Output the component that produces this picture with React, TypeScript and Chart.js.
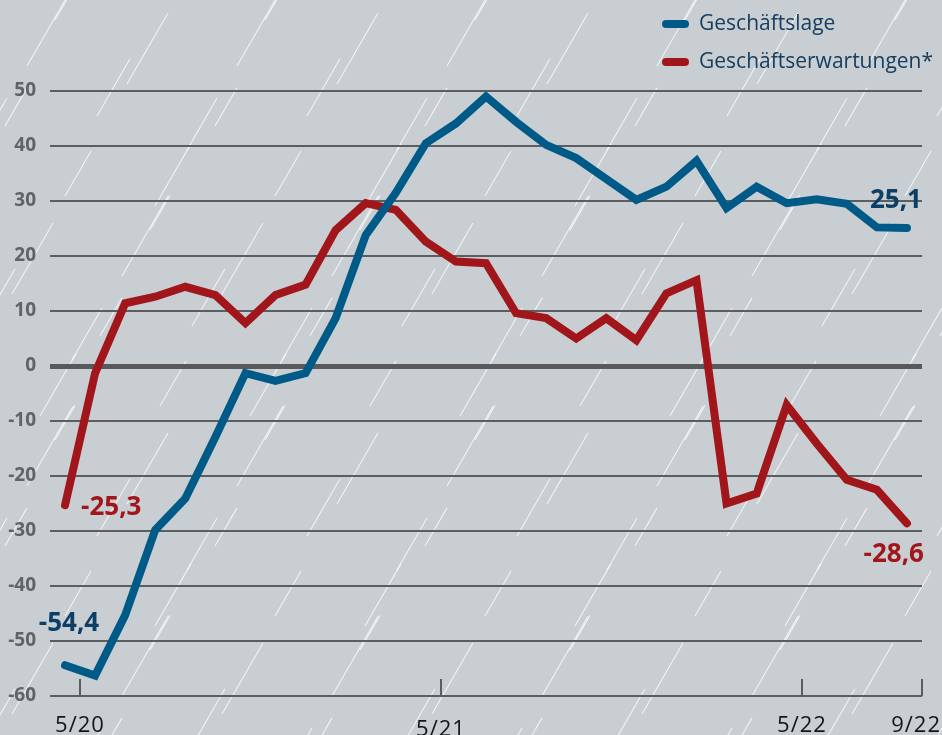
import React, { useEffect, useRef } from "react";
import { Chart, registerables } from "chart.js";

Chart.register(...registerables);

const MONTHS = [
  "5/20", "6/20", "7/20", "8/20", "9/20", "10/20", "11/20", "12/20",
  "1/21", "2/21", "3/21", "4/21", "5/21", "6/21", "7/21", "8/21", "9/21", "10/21", "11/21", "12/21",
  "1/22", "2/22", "3/22", "4/22", "5/22", "6/22", "7/22", "8/22", "9/22",
];

const GESCHAEFTSLAGE = [
  -54.4, -56.3, -45.3, -29.8, -24.1, -12.9, -1.3, -2.7, -1.3, 8.7,
  23.8, 31.5, 40.5, 44.1, 49.0, 44.4, 40.2, 37.8, 34.0, 30.2,
  32.6, 37.3, 28.7, 32.6, 29.6, 30.3, 29.5, 25.2, 25.1,
];

const GESCHAEFTSERWARTUNGEN = [
  -25.3, -1.3, 11.4, 12.6, 14.4, 12.9, 7.8, 12.9, 14.8, 24.7,
  29.6, 28.4, 22.6, 19.0, 18.7, 9.6, 8.7, 5.0, 8.7, 4.7,
  13.2, 15.6, -25.0, -23.2, -7.1, -14.1, -20.7, -22.5, -28.6,
];

const SERIES_NAMES = ["Geschäftslage", "Geschäftserwartungen*"];
const TICK_LABELS = ["5/20", "5/21", "5/22", "9/22"];
const Y_MIN = -60;
const Y_MAX = 50;
const Y_STEP = 10;

const BG = "#c9ced2";
const GRID = "#5b5e61";
const BLUE = "#005a88";
const RED = "#a1161b";
const BLUE_TEXT = "#0c3f66";
const FONT = "'Open Sans', 'Noto Sans', sans-serif";

// decorative rain tile: [x, y, length]
const RAIN: number[][] = [
  [12, 84, 82], [72, 150, 60], [122, 66, 92], [160, 196, 52],
  [40, 206, 72], [192, 116, 66], [100, 126, 44], [150, 20, 40],
];

const fmt = (v: number) => v.toFixed(1).replace(".", ",");

const bgPlugin = {
  id: "bgRain",
  beforeDraw(chart: any) {
    const { ctx, width, height } = chart;
    ctx.save();
    ctx.fillStyle = BG;
    ctx.fillRect(0, 0, width, height);
    ctx.strokeStyle = "rgba(255,255,255,0.75)";
    ctx.lineWidth = 1.1;
    const T = 210;
    let row = 0;
    for (let oy = -T; oy < height + T; oy += T) {
      const shift = (row % 2) * 95;
      for (let ox = -T - shift; ox < width + T; ox += T) {
        for (const [sx, sy, len] of RAIN) {
          ctx.beginPath();
          ctx.moveTo(ox + sx, oy + sy);
          ctx.lineTo(ox + sx + len * 0.5, oy + sy - len * 0.866);
          ctx.stroke();
        }
      }
      row++;
    }
    ctx.restore();
  },
};

const axisPlugin = {
  id: "xTicks",
  beforeDatasetsDraw(chart: any) {
    const { ctx, chartArea, width } = chart;
    const xs = chart.scales.x;
    ctx.save();
    ctx.strokeStyle = GRID;
    ctx.lineWidth = 2;
    ctx.font = `22px ${FONT}`;
    try { (ctx as any).letterSpacing = "1px"; } catch (e) {}
    ctx.fillStyle = "#151515";
    ctx.textBaseline = "alphabetic";
    TICK_LABELS.forEach((lab, i) => {
      const x = Math.round(xs.getPixelForValue(MONTHS.indexOf(lab) + 0.5));
      ctx.beginPath();
      ctx.moveTo(x, chartArea.bottom - 17);
      ctx.lineTo(x, chartArea.bottom);
      ctx.stroke();
      const w = ctx.measureText(lab).width;
      let tx = x;
      ctx.textAlign = "center";
      if (x + w / 2 > width - 1) {
        ctx.textAlign = "right";
        tx = width - 1;
      }
      ctx.fillText(lab, tx, i === 1 ? 736 : 732);
    });
    try { (ctx as any).letterSpacing = "0px"; } catch (e) {}
    ctx.restore();
  },
  afterDatasetsDraw(chart: any) {
    const { ctx } = chart;
    const xs = chart.scales.x;
    const ys = chart.scales.y;
    ctx.save();
    ctx.font = `bold 26px ${FONT}`;
    const last = MONTHS.length - 1;
    const put = (series: number[], idx: number, color: string, align: any, dx: number, dy: number) => {
      const px = xs.getPixelForValue(idx);
      const py = ys.getPixelForValue(series[idx]);
      ctx.fillStyle = color;
      ctx.textAlign = align;
      ctx.textBaseline = "alphabetic";
      ctx.fillText(fmt(series[idx]), px + dx, py + dy);
    };
    put(GESCHAEFTSLAGE, 0, BLUE_TEXT, "center", 4, -34);
    put(GESCHAEFTSERWARTUNGEN, 0, RED, "left", 16, 10);
    put(GESCHAEFTSLAGE, last, BLUE_TEXT, "right", 15, -20);
    put(GESCHAEFTSERWARTUNGEN, last, RED, "right", 17, 39);

    // legend
    const colors = [BLUE, RED];
    SERIES_NAMES.forEach((name, i) => {
      const y = 24 + i * 38;
      ctx.strokeStyle = colors[i];
      ctx.lineWidth = 8;
      ctx.lineCap = "round";
      ctx.beginPath();
      ctx.moveTo(666, y);
      ctx.lineTo(685, y);
      ctx.stroke();
      ctx.font = `21px ${FONT}`;
      ctx.fillStyle = "#163e60";
      ctx.textAlign = "left";
      ctx.textBaseline = "middle";
      ctx.fillText(name, 699, y);
    });
    ctx.restore();
  },
};

export default function App() {
  const ref = useRef<HTMLCanvasElement | null>(null);
  useEffect(() => {
    document.body.style.margin = "0";
    const canvas = ref.current!;
    const toPts = (arr: number[]) => arr.map((v, i) => ({ x: i, y: v }));
    const chart = new Chart(canvas, {
      type: "line",
      data: {
        datasets: [
          {
            label: SERIES_NAMES[0],
            data: toPts(GESCHAEFTSLAGE),
            borderColor: BLUE,
            borderWidth: 8,
            borderCapStyle: "round",
            borderJoinStyle: "miter",
            pointRadius: 0,
            tension: 0,
          },
          {
            label: SERIES_NAMES[1],
            data: toPts(GESCHAEFTSERWARTUNGEN),
            borderColor: RED,
            borderWidth: 8,
            borderCapStyle: "round",
            borderJoinStyle: "miter",
            pointRadius: 0,
            tension: 0,
          },
        ],
      },
      options: {
        animation: false,
        responsive: false,
        devicePixelRatio: 1,
        layout: { padding: { left: 0, right: 20, top: 91, bottom: 39 } },
        plugins: { legend: { display: false }, tooltip: { enabled: false } },
        scales: {
          x: { type: "linear", min: -0.5, max: MONTHS.length - 0.5, display: false },
          y: {
            min: Y_MIN,
            max: Y_MAX,
            afterFit: (s: any) => { s.width = 50; },
            ticks: {
              stepSize: Y_STEP,
              padding: 14,
              color: "#606367",
              font: { family: FONT, size: 19, weight: "bold" },
            },
            border: { display: false },
            grid: {
              drawTicks: false,
              color: (c: any) => (c.tick && c.tick.value === 0 ? "#58595b" : GRID),
              lineWidth: (c: any) => (c.tick && c.tick.value === 0 ? 5 : 2),
            },
          },
        },
      } as any,
      plugins: [bgPlugin, axisPlugin],
    });
    return () => chart.destroy();
  }, []);
  return (
    <div style={{ width: 942, height: 735 }}>
      <canvas ref={ref} width={942} height={735} style={{ display: "block" }} />
    </div>
  );
}
